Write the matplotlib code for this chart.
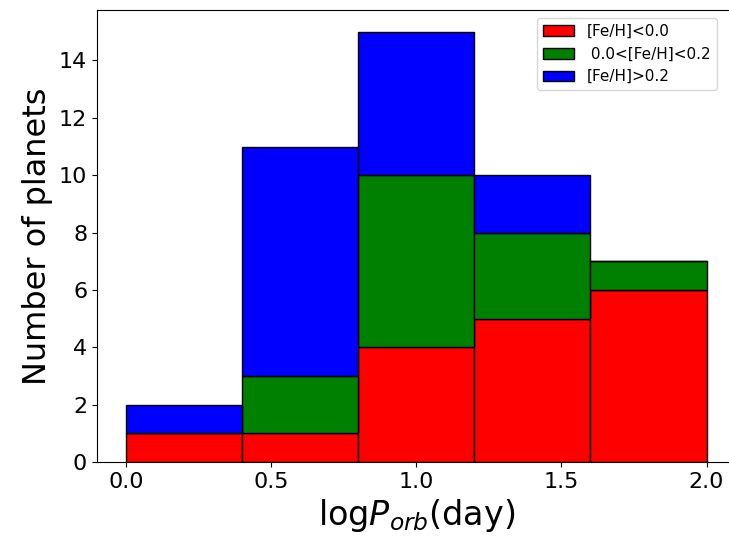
import numpy as np
import matplotlib.pyplot as plt

bins = [0.0, 0.4, 0.8, 1.2, 1.6, 2.0]
n_low = [1, 1, 4, 5, 6]    # [Fe/H]<0.0
n_mid = [0, 2, 6, 3, 1]    # 0.0<[Fe/H]<0.2
n_high = [1, 8, 5, 2, 0]   # [Fe/H]>0.2
labels = ["[Fe/H]<0.0", " 0.0<[Fe/H]<0.2", "[Fe/H]>0.2"]
cores = ["red", "green", "blue"]

centros = [(bins[i] + bins[i + 1]) / 2 for i in range(len(bins) - 1)]

fig = plt.figure(figsize=(7.29, 5.38), dpi=100)
# eixo passa um pouco da borda direita da figura
ax = fig.add_axes([0.133, 0.141, 0.876, 0.840])
ax.hist([centros, centros, centros], bins=bins,
        weights=[n_low, n_mid, n_high], stacked=True,
        color=cores, edgecolor="black", label=labels)
ax.set_xlim(-0.1, 2.1)
ax.set_ylim(0, 15.75)
ax.set_xticks([0.0, 0.5, 1.0, 1.5, 2.0])
ax.set_yticks([0, 2, 4, 6, 8, 10, 12, 14])
ax.tick_params(labelsize=16)
ax.set_xlabel(r"log$P_{orb}$(day)", fontsize=24)
ax.set_ylabel("Number of planets", fontsize=23)
ax.legend(loc="upper right", fontsize=11, bbox_to_anchor=(0.994, 0.981),
          bbox_transform=fig.transFigure)
plt.savefig("out.png", dpi=100)
